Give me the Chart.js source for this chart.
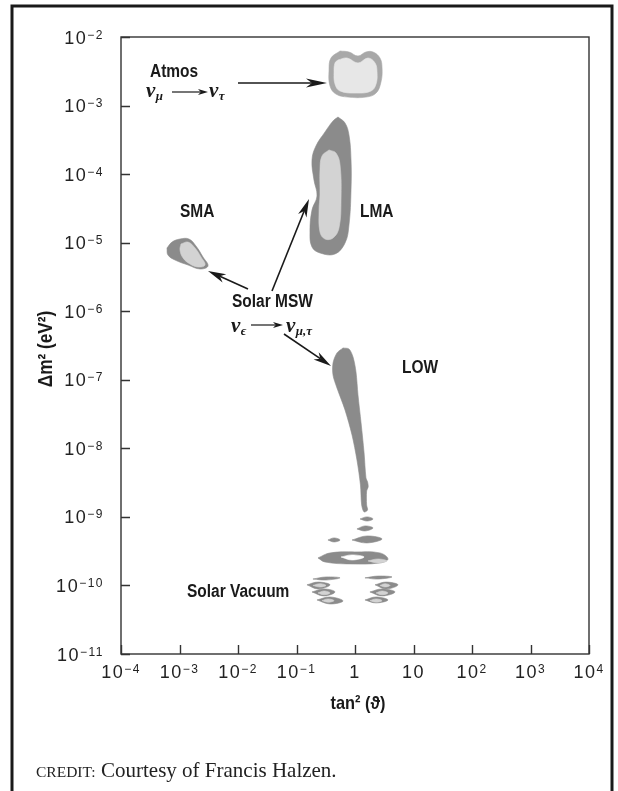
<!DOCTYPE html>
<html>
<head>
<meta charset="utf-8">
<script src="https://cdn.jsdelivr.net/npm/chart.js@4.4.1/dist/chart.umd.min.js"></script>
<style>
  html, body { margin: 0; padding: 0; background: #fff; }
  canvas { display: block; }
</style>
</head>
<body>
<canvas id="nuChart" width="618" height="791"></canvas>
<script>
// ── AXES ──────────────────────────────────────────────────────────────────────
const xTickValues = [1e-4, 1e-3, 1e-2, 1e-1, 1, 10, 1e2, 1e3, 1e4];
const xTickLabels = [['10', '−4'], ['10', '−3'], ['10', '−2'], ['10', '−1'], ['1', ''], ['10', ''], ['10', '2'], ['10', '3'], ['10', '4']];
const yTickValues = [1e-11, 1e-10, 1e-9, 1e-8, 1e-7, 1e-6, 1e-5, 1e-4, 1e-3, 1e-2];
const yTickLabels = [['10', '−11'], ['10', '−10'], ['10', '−9'], ['10', '−8'], ['10', '−7'], ['10', '−6'], ['10', '−5'], ['10', '−4'], ['10', '−3'], ['10', '−2']];

// ── ALLOWED REGIONS, outlines as [tan²θ, Δm² (eV²)] ─────────────────────────
const atmosOuter = [[0.555, 6.25e-3], [0.789, 6.04e-3], [1.125, 5.28e-3], [1.54, 6.04e-3], [2.03, 6.04e-3], [2.67, 4.94e-3], [2.90, 3.53e-3], [2.78, 2.21e-3], [2.29, 1.52e-3], [1.54, 1.33e-3], [0.759, 1.33e-3], [0.473, 1.47e-3], [0.374, 1.93e-3], [0.360, 3.30e-3], [0.389, 4.94e-3], [0.555, 6.25e-3]];
const atmosInner = [[0.512, 4.62e-3], [0.729, 4.94e-3], [1.125, 4.18e-3], [1.67, 4.94e-3], [2.20, 4.18e-3], [2.38, 3.09e-3], [2.29, 2.06e-3], [1.88, 1.63e-3], [1.08, 1.52e-3], [0.555, 1.63e-3], [0.455, 2.06e-3], [0.438, 3.09e-3], [0.455, 4.18e-3], [0.512, 4.62e-3]];

const lmaOuter = [[0.512, 6.81e-4], [0.675, 5.57e-4], [0.789, 3.72e-4], [0.855, 1.61e-4], [0.855, 5.86e-5], [0.789, 1.81e-5], [0.675, 9.89e-6], [0.455, 6.84e-6], [0.252, 7.08e-6], [0.184, 8.65e-6], [0.170, 1.43e-5], [0.184, 3.00e-5], [0.224, 4.80e-5], [0.199, 8.20e-5], [0.184, 1.61e-4], [0.215, 2.57e-4], [0.307, 4.11e-4], [0.421, 5.96e-4], [0.512, 6.81e-4]];
const lmaInner = [[0.360, 2.25e-4], [0.473, 2.03e-4], [0.555, 1.36e-4], [0.577, 4.20e-5], [0.532, 1.64e-5], [0.421, 1.17e-5], [0.307, 1.13e-5], [0.252, 1.43e-5], [0.243, 3.00e-5], [0.252, 4.96e-5], [0.252, 1.15e-4], [0.273, 1.84e-4], [0.360, 2.25e-4]];

const smaOuter = [[6.11e-4, 8.36e-6], [7.45e-4, 1.02e-5], [1.02e-3, 1.13e-5], [1.45e-3, 1.13e-5], [1.91e-3, 8.95e-6], [2.52e-3, 6.18e-6], [3.07e-3, 4.57e-6], [2.24e-3, 4.13e-6], [1.40e-3, 4.72e-6], [8.37e-4, 5.59e-6], [6.35e-4, 6.61e-6], [6.11e-4, 8.36e-6]];
const smaInner = [[1.06e-3, 9.57e-6], [1.40e-3, 1.02e-5], [1.84e-3, 8.36e-6], [2.33e-3, 6.18e-6], [2.73e-3, 4.72e-6], [2.07e-3, 4.42e-6], [1.51e-3, 4.89e-6], [1.15e-3, 5.98e-6], [1.02e-3, 7.82e-6], [1.06e-3, 9.57e-6]];

const lowRegion = [[0.624, 2.91e-7], [0.789, 2.81e-7], [0.925, 2.15e-7], [1.04, 1.30e-7], [1.125, 6.00e-8], [1.27, 2.34e-8], [1.43, 8.55e-9], [1.54, 3.70e-9], [1.64, 3.23e-9], [1.68, 2.73e-9], [1.58, 2.39e-9], [1.58, 1.49e-9], [1.64, 1.26e-9], [1.43, 1.18e-9], [1.30, 1.49e-9], [1.24, 2.92e-9], [1.08, 6.76e-9], [0.889, 1.57e-8], [0.675, 3.63e-8], [0.492, 7.59e-8], [0.421, 1.17e-7], [0.421, 1.76e-7], [0.492, 2.46e-7], [0.624, 2.91e-7]];

// islands below LOW
const islandA = [[1.22, 9.33e-10], [1.60, 1.0e-9], [2.03, 9.33e-10], [1.60, 8.71e-10], [1.22, 9.33e-10]];
const islandB = [[1.08, 6.67e-10], [1.48, 7.38e-10], [2.03, 6.89e-10], [1.48, 6.24e-10], [1.08, 6.67e-10]];
const islandC = [[0.345, 4.60e-10], [0.438, 4.93e-10], [0.555, 4.60e-10], [0.438, 4.31e-10], [0.345, 4.60e-10]];
const islandD = [[0.889, 4.60e-10], [1.60, 5.27e-10], [2.90, 4.76e-10], [1.60, 4.17e-10], [0.889, 4.60e-10]];
const bandOuter = [[0.233, 2.52e-10], [0.374, 2.98e-10], [1.00, 3.08e-10], [2.67, 2.98e-10], [3.66, 2.43e-10], [2.67, 2.13e-10], [0.822, 2.06e-10], [0.307, 2.20e-10], [0.233, 2.52e-10]];
const bandHole = [[0.577, 2.60e-10], [0.889, 2.79e-10], [1.43, 2.60e-10], [0.889, 2.35e-10], [0.577, 2.60e-10]];
const bandPatch = [[1.67, 2.28e-10], [2.47, 2.43e-10], [3.52, 2.28e-10], [2.47, 2.13e-10], [1.67, 2.28e-10]];

// solar vacuum solutions
const vacL1 = [[0.191, 1.24e-10], [0.319, 1.33e-10], [0.555, 1.29e-10], [0.319, 1.20e-10], [0.191, 1.24e-10]];
const vacL2 = [[0.151, 1.02e-10], [0.233, 1.12e-10], [0.374, 1.02e-10], [0.233, 8.89e-11], [0.151, 1.02e-10]];
const vacL2in = [[0.191, 1.0e-10], [0.252, 1.06e-10], [0.319, 1.0e-10], [0.252, 9.5e-11], [0.191, 1.0e-10]];
const vacL3 = [[0.184, 8.04e-11], [0.295, 8.89e-11], [0.455, 8.04e-11], [0.295, 7.03e-11], [0.184, 8.04e-11]];
const vacL3in = [[0.233, 7.77e-11], [0.295, 8.3e-11], [0.374, 7.77e-11], [0.295, 7.3e-11], [0.233, 7.77e-11]];
const vacL4 = [[0.224, 6.14e-11], [0.374, 6.79e-11], [0.624, 5.94e-11], [0.374, 5.37e-11], [0.224, 6.14e-11]];
const vacL4in = [[0.273, 6.0e-11], [0.345, 6.35e-11], [0.438, 6.0e-11], [0.345, 5.7e-11], [0.273, 6.0e-11]];
const vacR1 = [[1.48, 1.29e-10], [2.47, 1.37e-10], [4.29, 1.33e-10], [2.47, 1.24e-10], [1.48, 1.29e-10]];
const vacR2 = [[2.20, 1.02e-10], [3.39, 1.12e-10], [5.43, 1.02e-10], [3.39, 8.89e-11], [2.20, 1.02e-10]];
const vacR2in = [[2.67, 1.0e-10], [3.26, 1.06e-10], [3.96, 1.0e-10], [3.26, 9.5e-11], [2.67, 1.0e-10]];
const vacR3 = [[1.80, 8.04e-11], [2.90, 8.89e-11], [4.83, 8.04e-11], [2.90, 7.03e-11], [1.80, 8.04e-11]];
const vacR3in = [[2.29, 7.77e-11], [2.90, 8.3e-11], [3.66, 7.77e-11], [2.90, 7.3e-11], [2.29, 7.77e-11]];
const vacR4 = [[1.48, 6.14e-11], [2.29, 6.79e-11], [3.66, 6.14e-11], [2.29, 5.56e-11], [1.48, 6.14e-11]];
const vacR4in = [[1.80, 6.0e-11], [2.29, 6.35e-11], [2.90, 6.0e-11], [2.29, 5.7e-11], [1.80, 6.0e-11]];

const DARK = '#8b8b8b';
const MID = '#a8a8a8';
const LIGHT = '#d3d3d3';
const PALE = '#e7e7e7';

function region(points, color, order, tension = 0.4) {
    return {
        data: points.map(([x, y]) => ({ x, y })),
        showLine: true,
        fill: 'shape',
        backgroundColor: color,
        borderColor: color,
        borderWidth: 0.6,
        pointRadius: 0,
        tension,
        order,
    };
}

const datasets = [
    region(atmosOuter, MID, 3), region(atmosInner, PALE, 2),
    region(lmaOuter, DARK, 3), region(lmaInner, LIGHT, 2),
    region(smaOuter, DARK, 3), region(smaInner, LIGHT, 2),
    region(lowRegion, DARK, 3, 0.3),
    region(islandA, DARK, 3), region(islandB, DARK, 3), region(islandC, DARK, 3), region(islandD, DARK, 3),
    region(bandOuter, DARK, 3), region(bandHole, '#ffffff', 1), region(bandPatch, LIGHT, 1),
    region(vacL1, DARK, 3), region(vacL2, DARK, 3), region(vacL3, DARK, 3), region(vacL4, DARK, 3),
    region(vacL2in, LIGHT, 2), region(vacL3in, LIGHT, 2), region(vacL4in, LIGHT, 2),
    region(vacR1, DARK, 3), region(vacR2, DARK, 3), region(vacR3, DARK, 3), region(vacR4, DARK, 3),
    region(vacR2in, LIGHT, 2), region(vacR3in, LIGHT, 2), region(vacR4in, LIGHT, 2),
];

// ── DRAW HELPERS ──────────────────────────────────────────────────────────────
const SANS = "'Liberation Sans', Arial, Helvetica, sans-serif";
const SERIF = "'Liberation Serif', 'Times New Roman', serif";

function boldLabel(ctx, text, x, y, align = 'left', rotate = 0, size = 18) {
    ctx.save();
    ctx.translate(x, y);
    if (rotate) ctx.rotate(rotate);
    ctx.scale(0.86, 1);
    ctx.font = `bold ${size}px ${SANS}`;
    ctx.textAlign = align;
    ctx.textBaseline = 'alphabetic';
    ctx.fillStyle = '#1a1a1a';
    ctx.fillText(text, 0, 0);
    ctx.restore();
}

function arrow(ctx, x1, y1, x2, y2, headLen, headW, lw) {
    const ang = Math.atan2(y2 - y1, x2 - x1);
    const ux = Math.cos(ang), uy = Math.sin(ang);
    const bx = x2 - ux * headLen, by = y2 - uy * headLen;
    const nx = x2 - ux * headLen * 0.72, ny = y2 - uy * headLen * 0.72;
    ctx.lineWidth = lw;
    ctx.beginPath();
    ctx.moveTo(x1, y1);
    ctx.lineTo(nx, ny);
    ctx.stroke();
    ctx.beginPath();
    ctx.moveTo(x2, y2);
    ctx.lineTo(bx - uy * headW, by + ux * headW);
    ctx.lineTo(nx, ny);
    ctx.lineTo(bx + uy * headW, by - ux * headW);
    ctx.closePath();
    ctx.fill();
}

function nu(ctx, x, y, sub) {
    ctx.textAlign = 'left';
    ctx.font = `bold italic 21px ${SERIF}`;
    ctx.fillText('ν', x, y);
    const w = ctx.measureText('ν').width;
    ctx.font = `bold italic 13px ${SERIF}`;
    ctx.fillText(sub, x + w + 0.5, y + 3);
}

const decor = {
    id: 'decor',
    afterDraw(chart) {
        const { ctx, chartArea: a, scales: { x: xs, y: ys } } = chart;
        ctx.save();
        ctx.fillStyle = '#1a1a1a';
        ctx.strokeStyle = '#1a1a1a';

        // outer frame
        ctx.lineWidth = 3;
        ctx.strokeRect(12, 6, 600, 800);

        // plot box + inward ticks
        ctx.strokeStyle = '#333';
        ctx.lineWidth = 1.4;
        ctx.strokeRect(a.left, a.top, a.right - a.left, a.bottom - a.top);
        ctx.beginPath();
        yTickValues.forEach(v => {
            const py = Math.round(ys.getPixelForValue(v)) + 0.5;
            ctx.moveTo(a.left, py); ctx.lineTo(a.left + 9, py);
        });
        xTickValues.forEach(v => {
            const px = Math.round(xs.getPixelForValue(v)) + 0.5;
            ctx.moveTo(px, a.bottom); ctx.lineTo(px, a.bottom - 9);
        });
        ctx.stroke();

        // tick labels
        ctx.fillStyle = '#222';
        ctx.textAlign = 'left';
        ctx.letterSpacing = '1.5px';
        const baseFont = `18px ${SANS}`, supFont = `12px ${SANS}`;
        yTickValues.forEach((v, i) => {
            const [base, exp] = yTickLabels[i];
            const py = ys.getPixelForValue(v);
            ctx.font = supFont;
            const ew = ctx.measureText(exp).width;
            ctx.fillText(exp, 104 - ew, py + 1.5);
            ctx.font = baseFont;
            const bw = ctx.measureText(base).width;
            ctx.fillText(base, 104 - ew - bw, py + 6.5);
        });
        xTickValues.forEach((v, i) => {
            const [base, exp] = xTickLabels[i];
            const px = xs.getPixelForValue(v);
            ctx.font = baseFont;
            const bw = ctx.measureText(base).width;
            ctx.font = supFont;
            const ew = exp ? ctx.measureText(exp).width : 0;
            const start = px - (bw + ew) / 2;
            ctx.font = baseFont;
            ctx.fillText(base, start, 678);
            if (exp) {
                ctx.font = supFont;
                ctx.fillText(exp, start + bw, 673);
            }
        });
        ctx.letterSpacing = '0px';

        // axis titles
        boldLabel(ctx, 'tan² (ϑ)', 358, 709, 'center', 0, 19);
        boldLabel(ctx, 'Δm² (eV²)', 52, 349, 'center', -Math.PI / 2, 20);

        // region labels
        boldLabel(ctx, 'Atmos', 150, 77);
        boldLabel(ctx, 'SMA', 180, 217);
        boldLabel(ctx, 'LMA', 360, 217);
        boldLabel(ctx, 'LOW', 402, 373);
        boldLabel(ctx, 'Solar MSW', 232, 307);
        boldLabel(ctx, 'Solar Vacuum', 187, 597);

        // oscillation channels
        ctx.fillStyle = '#1a1a1a';
        ctx.strokeStyle = '#1a1a1a';
        nu(ctx, 146, 97, 'μ');
        nu(ctx, 209, 97, 'τ');
        nu(ctx, 231, 332, 'ϵ');
        nu(ctx, 286, 332, 'μ,τ');
        arrow(ctx, 172, 92, 208, 92, 10, 3, 1.2);
        arrow(ctx, 251, 325, 283, 325, 10, 3, 1.2);

        // pointers to the regions
        arrow(ctx, 238, 83, 327, 83, 21, 4.5, 1.6);
        arrow(ctx, 248, 289, 208, 271, 18, 4.5, 1.6);
        arrow(ctx, 272, 291, 309, 199, 18, 4.5, 1.6);
        arrow(ctx, 284, 334, 331, 366, 18, 4.5, 1.6);

        // credit line
        ctx.textAlign = 'left';
        ctx.fillStyle = '#222';
        ctx.font = `15.5px ${SERIF}`;
        ctx.fillText('CREDIT:', 36, 777);
        ctx.font = `21px ${SERIF}`;
        ctx.fillText('Courtesy of Francis Halzen.', 101, 777);
        ctx.restore();
    },
};

new Chart(document.getElementById('nuChart'), {
    type: 'scatter',
    data: { datasets },
    options: {
        responsive: false,
        animation: false,
        events: [],
        devicePixelRatio: 1,
        layout: { padding: { left: 121, right: 29, top: 37, bottom: 137 } },
        plugins: { legend: { display: false }, tooltip: { enabled: false } },
        scales: {
            x: { type: 'logarithmic', min: 1e-4, max: 1e4, display: false },
            y: { type: 'logarithmic', min: 1e-11, max: 1e-2, display: false },
        },
    },
    plugins: [decor],
});
</script>
</body>
</html>
